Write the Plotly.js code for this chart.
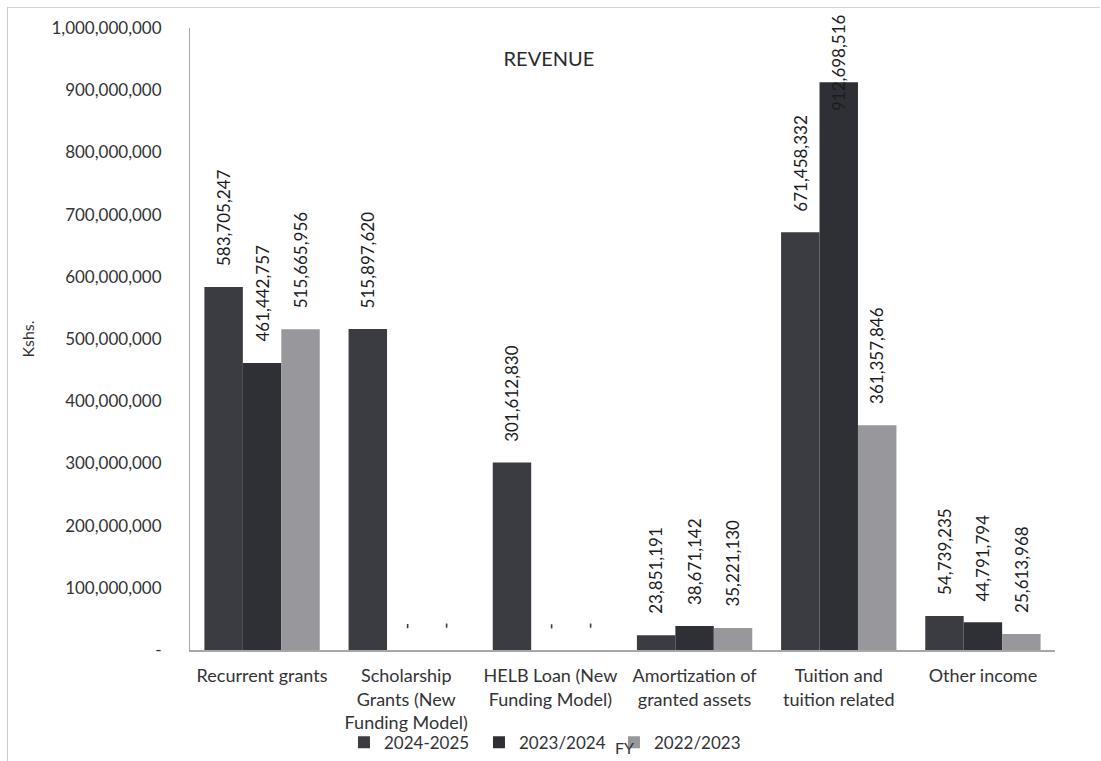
<!DOCTYPE html>
<html>
<head>
<meta charset="utf-8">
<script src="https://cdn.plot.ly/plotly-3.0.1.min.js"></script>
<style>
  html, body { margin: 0; padding: 0; background: #ffffff; }
  #wrap { position: relative; width: 1101px; height: 761px; overflow: hidden; }
  #chart { width: 1101px; height: 761px; }
  #frame {
    position: absolute; left: 7px; top: 7px; width: 1092px; height: 760px;
    border-left: 1px solid #c9c9cf; border-top: 1px solid #d2d2d8;
    pointer-events: none;
  }
</style>
</head>
<body>
<div id="wrap">
  <div id="chart"></div>
  <div id="frame"></div>
</div>
<script>
// Revenue by source, Kshs., for three financial years
const categories = [
  "Recurrent grants",
  "Scholarship<br>Grants (New<br>Funding Model)",
  "HELB Loan (New<br>Funding Model)",
  "Amortization of<br>granted assets",
  "Tuition and<br>tuition related",
  "Other income"
];
const fy2024_2025 = [583705247, 515897620, 301612830, 23851191, 671458332, 54739235];
const fy2023_2024 = [461442757, 0, 0, 38671142, 912698516, 44791794];
const fy2022_2023 = [515665956, 0, 0, 35221130, 361357846, 25613968];
const seriesNames = ["2024-2025", "2023/2024", "2022/2023"];
const seriesColors = ["#3b3c41", "#2e3035", "#97979c"];

const yTickVals = [0, 100000000, 200000000, 300000000, 400000000, 500000000,
                   600000000, 700000000, 800000000, 900000000, 1000000000];
const yTickText = ["-", "100,000,000", "200,000,000", "300,000,000", "400,000,000",
                   "500,000,000", "600,000,000", "700,000,000", "800,000,000",
                   "900,000,000", "1,000,000,000"];

const FONT = "Lato, 'Liberation Sans', sans-serif";
const TEXT_COLOR = "#333336";
const LABEL_COLOR = "#1c1c1f";
const yMax = 1000000000;
const BARGAP = 0.2;

// Accounting style: zero shown as a dash
function fmt(v) { return v === 0 ? "-" : v.toLocaleString("en-US"); }

const allSeries = [fy2024_2025, fy2023_2024, fy2022_2023];
const traces = allSeries.map((vals, i) => ({
  type: "bar",
  name: seriesNames[i],
  x: categories,
  y: vals,
  marker: { color: seriesColors[i] },
  hoverinfo: "x+y"
}));

// Value labels, rotated, standing a little above each bar.
// A label that would run past the top of the plot is pulled down over its bar.
const barSlot = (1 - BARGAP) / allSeries.length;
const annotations = [];
allSeries.forEach((vals, i) => {
  vals.forEach((v, j) => {
    const tall = v > 0.9 * yMax;
    annotations.push({
      x: j + (i - (allSeries.length - 1) / 2) * barSlot, y: v,
      xref: "x", yref: "y",
      yshift: 20,
      text: fmt(v), textangle: -90, showarrow: false,
      xanchor: "center", yanchor: tall ? "middle" : "bottom",
      borderpad: 0,
      font: { family: FONT, size: 17, color: LABEL_COLOR }
    });
  });
});
annotations.push({
  text: "FY", xref: "paper", yref: "paper", x: 0.502, y: -0.157,
  xanchor: "center", yanchor: "middle", showarrow: false,
  font: { family: FONT, size: 16, color: TEXT_COLOR }
});

const layout = {
  width: 1101, height: 761,
  margin: { l: 190, r: 46, t: 28, b: 111, autoexpand: false },
  paper_bgcolor: "#ffffff", plot_bgcolor: "#ffffff",
  font: { family: FONT, size: 17, color: TEXT_COLOR },
  title: {
    text: "REVENUE", x: 0.4986, y: 0.922, xanchor: "center", yanchor: "middle",
    font: { family: FONT, size: 20, color: "#2a2a30" }
  },
  barmode: "group", bargap: BARGAP, bargroupgap: 0,
  xaxis: {
    showline: true, linecolor: "#a6a6ab", linewidth: 1.5,
    ticks: "", showgrid: false, zeroline: false,
    ticklabelstandoff: 9, automargin: false,
    tickfont: { family: FONT, size: 18, color: TEXT_COLOR }
  },
  yaxis: {
    range: [0, yMax], tickvals: yTickVals, ticktext: yTickText,
    showline: true, linecolor: "#a6a6ab", linewidth: 1,
    ticks: "", showgrid: false, zeroline: false, automargin: false,
    ticklabelstandoff: 24,
    tickfont: { family: FONT, size: 17, color: TEXT_COLOR },
    title: { text: "Kshs.", standoff: 12, font: { family: FONT, size: 16, color: TEXT_COLOR } }
  },
  showlegend: true,
  legend: {
    orientation: "h", x: 0.178, xanchor: "left", y: -0.149, yanchor: "middle",
    itemwidth: 30, entrywidth: 90, entrywidthmode: "pixels",
    font: { family: FONT, size: 17, color: TEXT_COLOR },
    bgcolor: "rgba(0,0,0,0)"
  },
  annotations: annotations
};

Plotly.newPlot("chart", traces, layout, { displayModeBar: false, staticPlot: true });
</script>
</body>
</html>
